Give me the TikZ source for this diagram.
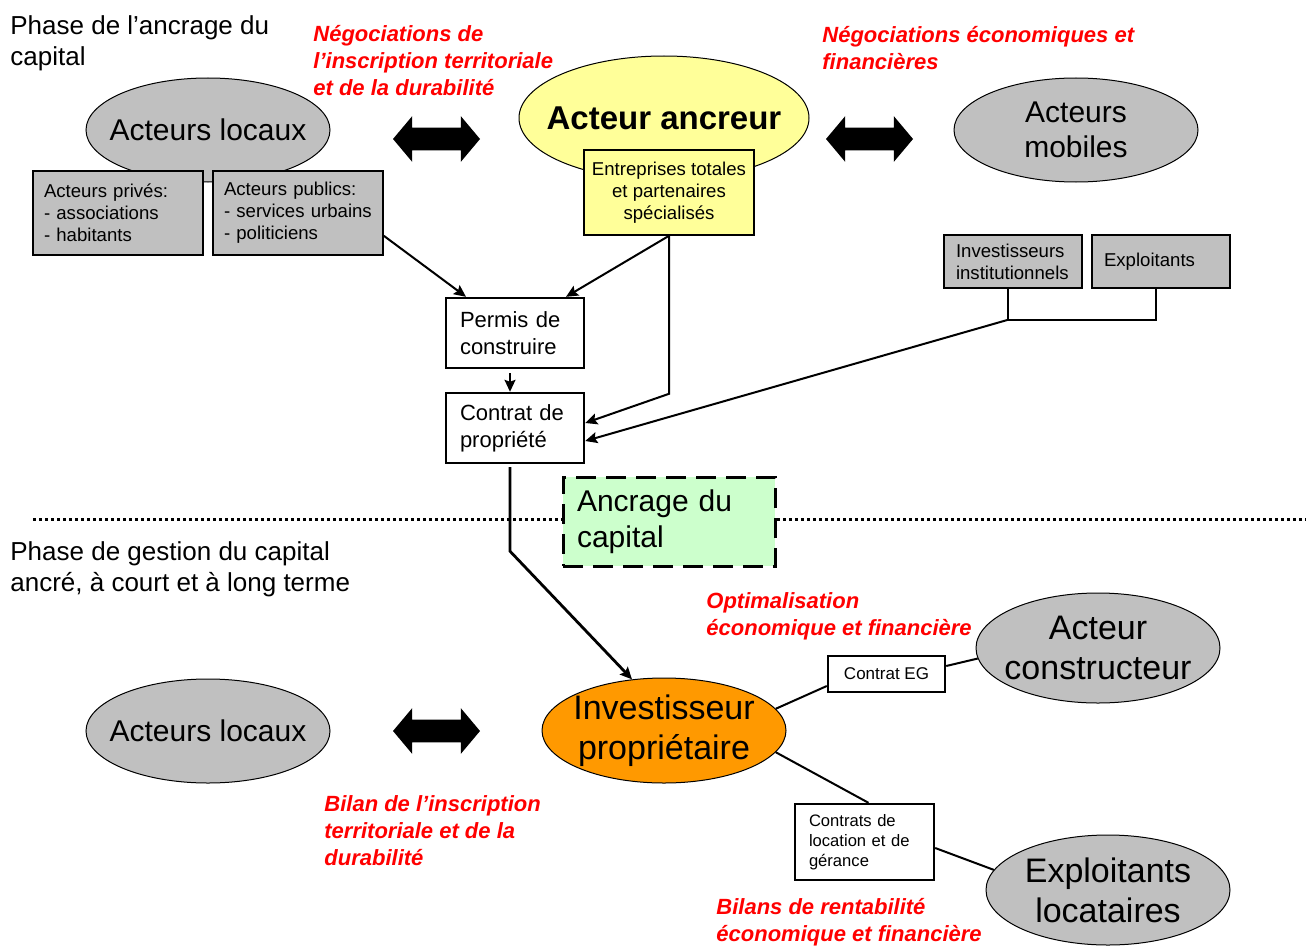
\documentclass[tikz,border=0pt]{standalone}
\usepackage{fontspec}
\setmainfont{Liberation Sans}
\usetikzlibrary{shapes.geometric,shapes.arrows,arrows.meta}
\definecolor{grisfond}{HTML}{C0C0C0}
\definecolor{jaunepale}{HTML}{FFFF99}
\definecolor{orangeinv}{HTML}{FF9900}
\definecolor{vertpale}{HTML}{CCFFCC}
\tikzset{
  acteur/.style={ellipse,draw,line width=0.5pt,inner sep=-10pt,align=center,
    minimum width=122pt,minimum height=52pt,font=\fontsize{15}{17.5}\selectfont},
  grisbox/.style={draw,line width=0.8pt,fill=grisfond,align=left,inner xsep=6pt,
    inner ysep=0pt,font=\fontsize{9.3}{11}\selectfont},
  acte/.style={draw,line width=1.2pt,fill=white,align=left,inner xsep=7pt,
    minimum width=69pt,minimum height=35pt,text width=55pt,
    font=\fontsize{11}{13.5}\selectfont},
  negoc/.style={anchor=west,text=red,align=left,inner sep=0pt,
    font=\fontsize{11}{13.5}\selectfont\bfseries\itshape},
  phase/.style={anchor=west,align=left,inner sep=0pt,font=\fontsize{13}{15.5}\selectfont},
  echange/.style={double arrow,fill=black,inner sep=5.5pt,double arrow head extend=5.75pt,
    minimum height=43.5pt,double arrow tip angle=100},
  fleche/.style={-{Stealth[length=6pt,width=5.5pt,inset=1pt]},line width=1pt},
  lien/.style={line width=1pt}
}
\begin{document}
\begin{tikzpicture}[x=0.5pt,y=-0.5pt]
\useasboundingbox (0,0) rectangle (1306,947);

\node[phase] (phaseA) at (10,43) {Phase de l’ancrage du\\capital};
\node[negoc] (negoA) at (313,61) {Négociations de\\l’inscription territoriale\\et de la durabilité};
\node[negoc] (negoB) at (822,48) {Négociations économiques et\\financières};

\node[acteur,fill=grisfond] (locA) at (208,130) {Acteurs locaux};
\node[grisbox,minimum width=85pt,minimum height=42pt,inner xsep=5.5pt,text width=74pt]
  (prives) at (118,213) {Acteurs privés:\\- associations\\- habitants};
\node[grisbox,minimum width=85pt,minimum height=42pt,inner xsep=5.5pt,text width=74pt]
  (publics) at (298,213) {Acteurs publics:\\- services urbains\\- politiciens};
\node[echange] (dblA) at (436.5,139) {};

\node[acteur,fill=jaunepale,minimum width=145pt,minimum height=62pt,
  font=\fontsize{16.5}{19}\selectfont\bfseries] (ancreur) at (664,118) {Acteur ancreur};
\node[grisbox,fill=jaunepale,align=center,inner xsep=3pt,minimum width=85pt,
  minimum height=42.5pt] (entre) at (669,192.5) {Entreprises totales\\et partenaires\\spécialisés};
\node[echange] (dblB) at (869.5,139) {};
\node[acteur,fill=grisfond] (mobiles) at (1076,130) {Acteurs\\mobiles};

\node[grisbox,minimum width=69pt,minimum height=26.5pt,text width=57pt] (instit)
  at (1013,261.5) {Investisseurs\\institutionnels};
\node[grisbox,minimum width=69pt,minimum height=26.5pt,text width=57pt] (exploitb)
  at (1161,261.5) {Exploitants};

\node[acte] (permis) at (515,333) {Permis de\\construire};
\node[acte] (contrat) at (515,428) {Contrat de\\propriété};

\draw[fleche] ([yshift=10pt]publics.south east) -- ([xshift=-24.5pt]permis.north);
\draw[fleche] (entre.south) -- ([xshift=25.5pt]permis.north);
\draw[fleche] (entre.south) -- ++(0,158) -- ([yshift=2.5pt]contrat.east);
\draw[fleche] ([xshift=-2.5pt,yshift=-2pt]permis.south) -- ([xshift=-2.5pt]contrat.north);
\draw[lien] ([xshift=-2.5pt]instit.south) -- ++(0,31) coordinate (jonction)
  -| ([xshift=-2.5pt]exploitb.south);
\draw[fleche] (jonction) -- ([yshift=-6.5pt]contrat.east);

\draw[line width=1.5pt,dash pattern=on 1.5pt off 1.5pt] (33,519) -- (1306,519);
\node[draw,line width=1.5pt,dash pattern=on 10pt off 5pt,fill=vertpale,
  minimum width=106pt,minimum height=44.5pt,text width=92pt,align=left,inner xsep=7pt,
  font=\fontsize{15}{18}\selectfont] (ancrage) at (669,521.5) {Ancrage du\\capital};

\node[phase] (phaseB) at (10,569) {Phase de gestion du capital\\ancré, à court et à long terme};
\node[negoc] (optim) at (706,616) {Optimalisation\\économique et financière};

\node[acteur,fill=grisfond,minimum height=55pt,font=\fontsize{17}{20}\selectfont]
  (constr) at (1098,648) {Acteur\\constructeur};
\node[draw,line width=1.2pt,fill=white,minimum width=58.5pt,minimum height=18pt,
  font=\fontsize{8.5}{10}\selectfont] (ceg) at (886.5,674) {Contrat EG};

\node[acteur,fill=grisfond] (locB) at (208,731) {Acteurs locaux};
\node[echange] (dblC) at (436.5,731) {};
\node[acteur,fill=orangeinv,minimum width=122pt,minimum height=52.5pt,
  font=\fontsize{17}{20}\selectfont] (invest) at (664,730.5) {Investisseur\\propriétaire};

\draw[fleche,line width=1.4pt] ([xshift=-2.5pt,yshift=-1.5pt]contrat.south) -- ++(0,84)
  -- (invest.122);

\node[negoc] (bilan) at (324,831) {Bilan de l’inscription\\territoriale et de la\\durabilité};

\node[draw,line width=1.2pt,fill=white,minimum width=69.5pt,minimum height=38pt,
  text width=55.5pt,align=left,inner xsep=7pt,font=\fontsize{8.3}{10}\selectfont]
  (cloc) at (864.5,842) {Contrats de\\location et de\\gérance};
\node[acteur,fill=grisfond,minimum height=55pt,font=\fontsize{17}{20}\selectfont]
  (exploit) at (1108,890) {Exploitants\\locataires};
\node[negoc] (bilans) at (716,922) {Bilans de rentabilité\\économique et financière};

\draw[lien] (invest.11) -- ([yshift=-6pt]ceg.west);
\draw[lien] ([yshift=4pt]ceg.east) -- (constr.185);
\draw[lien] (invest.-11) -- ([xshift=2pt]cloc.north);
\draw[lien] ([yshift=-3pt]cloc.east) -- (exploit.170);
\end{tikzpicture}
\end{document}
